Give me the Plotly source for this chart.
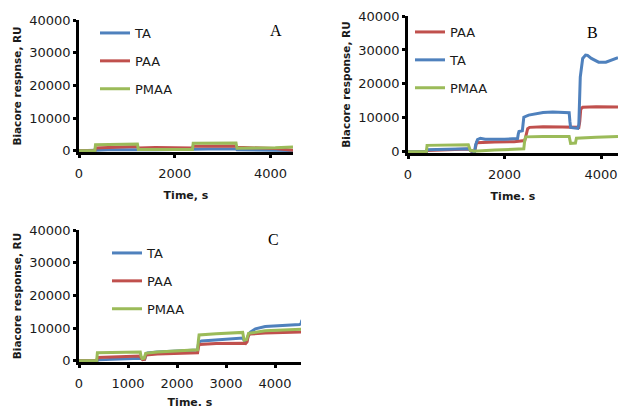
import plotly.graph_objects as go

# ---------------- data ----------------
# Panel A
tA_TA = [0, 330, 345, 600, 900, 1220, 1240, 1600, 2000, 2370, 2385, 2700, 3000, 3280, 3300, 3700, 4100, 4470]
vA_TA = [0, 0, 200, 300, 400, 500, 300, 300, 300, 300, 500, 600, 600, 600, 300, 300, 200, 100]
tA_PAA = [0, 330, 345, 600, 900, 1220, 1240, 1600, 2000, 2370, 2385, 2700, 3000, 3280, 3300, 3700, 4100, 4470]
vA_PAA = [0, 0, 900, 1100, 1200, 1300, 900, 1000, 900, 900, 1400, 1500, 1500, 1500, 1100, 1000, 700, 200]
tA_PMAA = [0, 330, 345, 600, 900, 1220, 1240, 1600, 2000, 2370, 2385, 2700, 3000, 3280, 3300, 3700, 4100, 4470]
vA_PMAA = [0, 0, 1900, 2000, 2050, 2100, 450, 400, 350, 400, 2300, 2400, 2400, 2400, 800, 850, 950, 1200]

# Panel B
tB_PAA = [0, 380, 395, 800, 1260, 1290, 1320, 1380, 1400, 1420, 1800, 2200, 2420, 2450, 2480, 2520, 2800, 3200, 3540, 3560, 3580, 3620, 3900, 4352]
vB_PAA = [0, 0, 400, 600, 800, 500, 100, 0, 1500, 2700, 2900, 3000, 3300, 5000, 6800, 7200, 7400, 7300, 7200, 9000, 12600, 13100, 13300, 13200]
tB_TA = [0, 380, 395, 1260, 1300, 1380, 1400, 1440, 1500, 1600, 2000, 2270, 2285, 2300, 2370, 2385, 2400, 2500, 2800, 3000, 3340, 3355, 3370, 3520, 3540, 3570, 3620, 3680, 3720, 3800, 3950, 4100, 4250, 4352]
vB_TA = [0, 0, 600, 900, 300, 0, 2000, 3600, 4000, 3700, 3700, 3900, 5200, 6000, 6200, 8000, 10200, 10800, 11600, 11700, 11500, 9000, 7200, 6900, 8000, 22000, 27500, 28500, 28400, 27500, 26400, 26400, 27200, 27700]
tB_PMAA = [0, 380, 395, 800, 1250, 1265, 1290, 1340, 1360, 1800, 2400, 2420, 2440, 2800, 3340, 3355, 3370, 3470, 3490, 3900, 4352]
vB_PMAA = [0, 0, 1900, 2000, 2100, 1500, 400, 400, 200, 500, 900, 3500, 4400, 4500, 4500, 3500, 2500, 2600, 4000, 4300, 4500]

# Panel C
tC_TA = [0, 360, 400, 800, 1250, 1300, 1340, 1360, 1400, 1600, 2000, 2420, 2435, 2450, 2500, 2800, 3340, 3360, 3400, 3430, 3450, 3500, 3600, 3800, 4200, 4500, 4530, 4550]
vC_TA = [0, 0, 300, 600, 800, 500, 500, 1500, 2400, 2700, 3000, 3300, 5000, 5800, 6100, 6500, 7000, 6500, 5800, 6200, 7500, 8800, 9800, 10500, 10900, 11100, 11400, 12500]
tC_PAA = [0, 360, 380, 800, 1250, 1270, 1300, 1340, 1360, 1600, 2000, 2420, 2440, 2460, 2800, 3340, 3360, 3400, 3430, 3450, 3480, 3800, 4200, 4550]
vC_PAA = [0, 0, 1000, 1300, 1500, 800, 400, 500, 1800, 2100, 2300, 2500, 4500, 5000, 5300, 5600, 5400, 5300, 5800, 7500, 8200, 8500, 8700, 8800]
tC_PMAA = [0, 360, 375, 800, 1250, 1265, 1290, 1330, 1345, 1360, 1600, 2000, 2420, 2435, 2450, 2800, 3340, 3355, 3370, 3420, 3440, 3460, 3800, 4200, 4550]
vC_PMAA = [0, 0, 2500, 2600, 2700, 1500, 700, 800, 1800, 2300, 2700, 3000, 3400, 6000, 7900, 8300, 8700, 7500, 6300, 6500, 7800, 8400, 9200, 9500, 9700]

y_ticks = [0, 10000, 20000, 30000, 40000]
y_tick_labels = ["0", "10000", "20000", "30000", "40000"]

BLUE = "#4F81BD"
RED = "#C0504D"
GREEN = "#9BBB59"

W, H = 618, 409

def px_x(p):
    return p / W

def px_y(p):
    return (H - p) / H

fig = go.Figure()

def add(t, v, name, color, ax, leg):
    fig.add_trace(go.Scatter(
        x=t, y=v, name=name, mode="lines",
        line=dict(color=color, width=3),
        xaxis=ax[0], yaxis=ax[1], legend=leg, legendgroup=name + leg,
    ))

add(tA_TA, vA_TA, "TA", BLUE, ("x", "y"), "legend")
add(tA_PAA, vA_PAA, "PAA", RED, ("x", "y"), "legend")
add(tA_PMAA, vA_PMAA, "PMAA", GREEN, ("x", "y"), "legend")

add(tB_PAA, vB_PAA, "PAA", RED, ("x2", "y2"), "legend2")
add(tB_TA, vB_TA, "TA", BLUE, ("x2", "y2"), "legend2")
add(tB_PMAA, vB_PMAA, "PMAA", GREEN, ("x2", "y2"), "legend2")

add(tC_TA, vC_TA, "TA", BLUE, ("x3", "y3"), "legend3")
add(tC_PAA, vC_PAA, "PAA", RED, ("x3", "y3"), "legend3")
add(tC_PMAA, vC_PMAA, "PMAA", GREEN, ("x3", "y3"), "legend3")

tickfont = dict(family="DejaVu Sans", size=13, color="#1a1a1a")
titlefont = dict(family="DejaVu Sans", size=11, color="#1a1a1a", weight="bold")

def xax(domain, rng, dtick, title, anchor):
    return dict(domain=domain, range=rng, dtick=dtick, tick0=0, anchor=anchor,
                automargin=False,
                showline=True, linecolor="black", linewidth=2.5,
                ticks="outside", ticklen=3, tickwidth=2.5, tickcolor="black",
                showgrid=False, zeroline=False, tickfont=tickfont,
                ticklabelstandoff=5,
                title=dict(text=title, font=titlefont, standoff=11))

def yax(domain, title, anchor):
    return dict(domain=domain, range=[-350, 40000], tickvals=y_ticks, ticktext=y_tick_labels,
                anchor=anchor, automargin=False,
                showline=True, linecolor="black", linewidth=2.5,
                ticks="outside", ticklen=3, tickwidth=2.5, tickcolor="black",
                showgrid=False, zeroline=False, tickfont=tickfont,
                title=dict(text=title, font=dict(family="DejaVu Sans", size=10.5, color="#1a1a1a", weight="bold"), standoff=6))

legfont = dict(family="DejaVu Sans", size=13, color="#1a1a1a")

def leg(xp, yp):
    return dict(x=px_x(xp), y=px_y(yp), xanchor="left", yanchor="top",
                bgcolor="rgba(0,0,0,0)", font=legfont, tracegroupgap=8,
                traceorder="grouped", itemclick=False)

def letter(text, xp, yp):
    return dict(text=text, x=px_x(xp), y=px_y(yp), xref="paper", yref="paper",
                xanchor="center", yanchor="middle", showarrow=False,
                font=dict(family="Liberation Serif", size=16, color="black"))

fig.update_layout(
    width=W, height=H,
    margin=dict(l=0, r=0, t=0, b=0),
    paper_bgcolor="white", plot_bgcolor="white",
    xaxis=xax([px_x(79), px_x(293)], [0, 4470], 2000, "Time, s", "y"),
    yaxis=yax([px_y(152), px_y(20)], "Biacore respnse, RU", "x"),
    xaxis2=xax([px_x(408), 1.0], [0, 4352], 2000, "Time. s", "y2"),
    yaxis2=yax([px_y(153), px_y(16)], "Biacore response, RU", "x2"),
    xaxis3=xax([px_x(79), px_x(301)], [0, 4530], 1000, "Time. s", "y3"),
    yaxis3=yax([px_y(362), px_y(230)], "Biacore response, RU", "x3"),
    legend=leg(95, 18),
    legend2=leg(410, 17),
    legend3=leg(107, 238),
    showlegend=True,
    annotations=[
        letter("A", 276, 31),
        letter("B", 592, 33),
        letter("C", 273, 239),
    ],
)

fig.write_html(
    "out.html",
    config={"displayModeBar": False},
    post_script="document.body.style.margin='0';document.body.style.padding='0';",
)
